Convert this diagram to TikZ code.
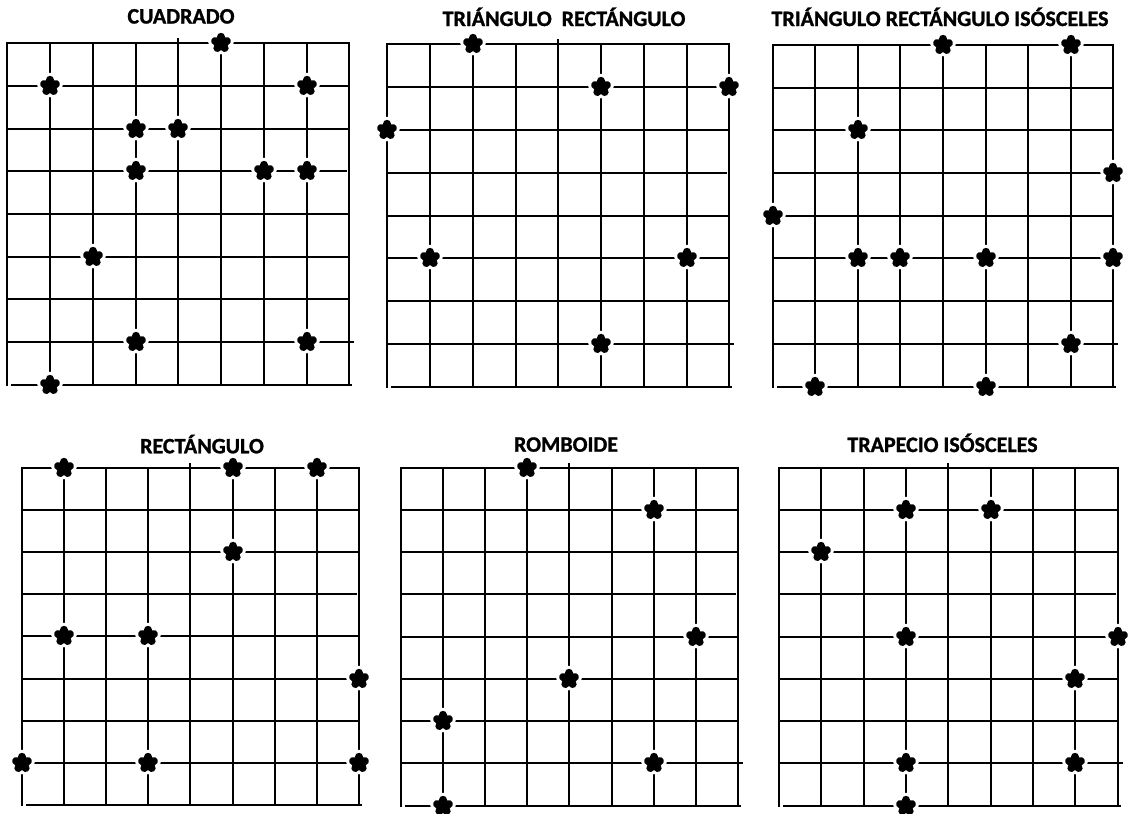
\documentclass[tikz,border=0pt]{standalone}
\usepackage{fontspec}
\newfontfamily\titlefont{Carlito}[BoldFeatures={FakeBold=1.2}]
\tikzset{
  gridline/.style={line width=2pt, black, line cap=rect},
  petalhalo/.style={line width=14pt, white, line cap=round},
  petal/.style={line width=8pt, black, line cap=round},
  title/.style={font=\titlefont\bfseries\fontsize{22}{24}\selectfont, anchor=base, inner sep=0pt},
}
\newcommand{\makegrid}{%
  \foreach \i in {0,1,2,3,5,6,7,8}
    \draw[gridline] ({round(\gx+\i*\gdx)},{round(\gy)}) -- ({round(\gx+\i*\gdx)},{round(\gy+8*\gdy)});
  \draw[gridline] ({round(\gx+4*\gdx)},{round(\gy-4)}) -- ({round(\gx+4*\gdx)},{round(\gy+8*\gdy)});
  \foreach \i in {0,1,2,4,5,6}
    \draw[gridline] ({round(\gx)},{round(\gy+\i*\gdy)}) -- ({round(\gx+8*\gdx)},{round(\gy+\i*\gdy)});
  \draw[gridline] ({round(\gx)},{round(\gy+3*\gdy)}) -- ({round(\gx+8*\gdx-3)},{round(\gy+3*\gdy)});
  \draw[gridline] ({round(\gx)},{round(\gy+7*\gdy)}) -- ({round(\gx+8*\gdx+4)},{round(\gy+7*\gdy)});
  \draw[gridline] ({round(\gx+5)},{round(\gy+8*\gdy)}) -- ({round(\gx+8*\gdx+2)},{round(\gy+8*\gdy)});
}
\newcommand{\putstar}[3]{%
  \coordinate (#1) at ({round(\gx+#2*\gdx)},{round(\gy+#3*\gdy)});
  \foreach \a in {-90,-18,54,126,198} \draw[petalhalo] (#1) -- ++(\a:6.2);
  \foreach \a in {-90,-18,54,126,198} \draw[petal] (#1) -- ++(\a:6.2);
}
\begin{document}
\begin{tikzpicture}[x=1pt, y=-1pt]
\useasboundingbox[fill=white] (0,0) rectangle (1128,814);

% ---- Grid 1: CUADRADO
\def\gx{7.3}\def\gy{43.3}\def\gdx{42.75}\def\gdy{42.7}
\node[title] (t1) at (181,23.5) {CUADRADO};
\makegrid
\putstar{a1}{5}{0}\putstar{a2}{1}{1}\putstar{a3}{7}{1}\putstar{a4}{3}{2}
\putstar{a5}{4}{2}\putstar{a6}{3}{3}\putstar{a7}{6}{3}\putstar{a8}{7}{3}
\putstar{a9}{2}{5}\putstar{a10}{3}{7}\putstar{a11}{7}{7}\putstar{a12}{1}{8}

% ---- Grid 2: TRIANGULO RECTANGULO
\def\gx{387.3}\def\gy{44.3}\def\gdx{42.75}\def\gdy{42.8}
\node[title] (t2) at (564,26) {TRIÁNGULO\ \ RECTÁNGULO};
\makegrid
\putstar{b1}{2}{0}\putstar{b2}{5}{1}\putstar{b3}{8}{1}\putstar{b4}{0}{2}
\putstar{b5}{1}{5}\putstar{b6}{7}{5}\putstar{b7}{5}{7}

% ---- Grid 3: TRIANGULO RECTANGULO ISOSCELES
\def\gx{772.7}\def\gy{45}\def\gdx{42.58}\def\gdy{42.7}
\node[title] (t3) at (940,26) {TRIÁNGULO RECTÁNGULO ISÓSCELES};
\makegrid
\putstar{c1}{4}{0}\putstar{c2}{7}{0}\putstar{c3}{2}{2}\putstar{c4}{8}{3}
\putstar{c5}{0}{4}\putstar{c6}{2}{5}\putstar{c7}{3}{5}\putstar{c8}{5}{5}
\putstar{c9}{8}{5}\putstar{c10}{7}{7}\putstar{c11}{1}{8}\putstar{c12}{5}{8}

% ---- Grid 4: RECTANGULO
\def\gx{21.7}\def\gy{467.7}\def\gdx{42.2}\def\gdy{42.16}
\node[title] (t4) at (202,453.3) {RECTÁNGULO};
\makegrid
\putstar{d1}{1}{0}\putstar{d2}{5}{0}\putstar{d3}{7}{0}\putstar{d4}{5}{2}
\putstar{d5}{1}{4}\putstar{d6}{3}{4}\putstar{d7}{8}{5}\putstar{d8}{0}{7}
\putstar{d9}{3}{7}\putstar{d10}{8}{7}

% ---- Grid 5: ROMBOIDE
\def\gx{400.7}\def\gy{467.7}\def\gdx{42.2}\def\gdy{42.25}
\node[title] (t5) at (566,451.7) {ROMBOIDE};
\makegrid
\putstar{e1}{3}{0}\putstar{e2}{6}{1}\putstar{e3}{7}{4}\putstar{e4}{4}{5}
\putstar{e5}{1}{6}\putstar{e6}{6}{7}\putstar{e7}{1}{8}

% ---- Grid 6: TRAPECIO ISOSCELES
\def\gx{779}\def\gy{467.7}\def\gdx{42.34}\def\gdy{42.25}
\node[title] (t6) at (942.5,452) {TRAPECIO ISÓSCELES};
\makegrid
\putstar{f1}{3}{1}\putstar{f2}{5}{1}\putstar{f3}{1}{2}\putstar{f4}{3}{4}
\putstar{f5}{8}{4}\putstar{f6}{7}{5}\putstar{f7}{3}{7}\putstar{f8}{7}{7}
\putstar{f9}{3}{8}
\end{tikzpicture}
\end{document}
